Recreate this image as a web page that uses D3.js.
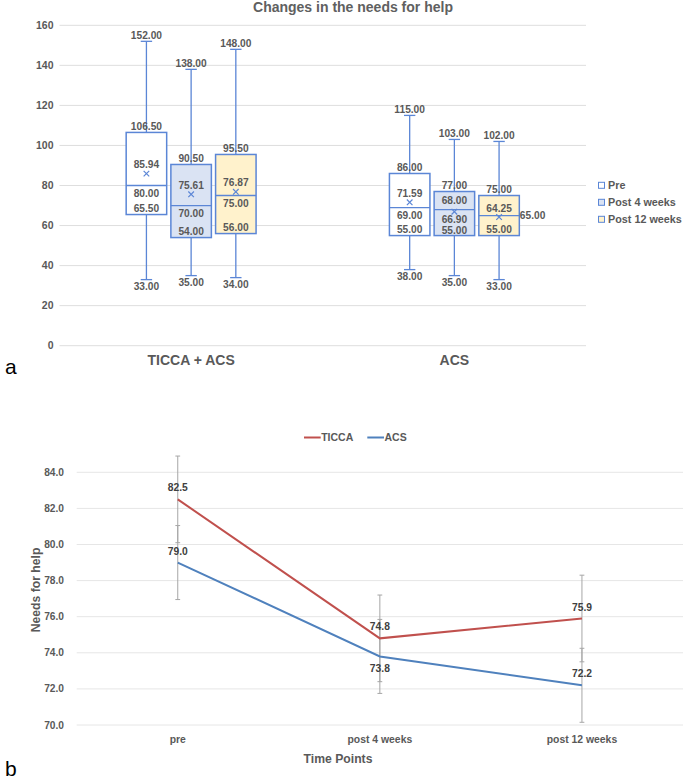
<!DOCTYPE html>
<html>
<head>
<meta charset="utf-8">
<script src="https://cdn.jsdelivr.net/npm/d3@7/dist/d3.min.js"></script>
<style>
  html, body { margin: 0; padding: 0; background: #fff; }
  svg { display: block; font-family: "Liberation Sans", Arial, sans-serif; }
</style>
</head>
<body>
<svg id="chart" width="685" height="781"></svg>
<script>
// ---- panel a: box plot data ----
const boxGroups = ['TICCA + ACS', 'ACS'];
const boxSeries = ['Pre', 'Post 4 weeks', 'Post 12 weeks'];
const boxMin    = [[33, 35, 34], [38, 35, 33]];
const boxQ1     = [[65.5, 54, 56], [55, 55, 55]];
const boxMedian = [[80, 70, 75], [69, 68, 65]];
const boxMean   = [[85.94, 75.61, 76.87], [71.59, 66.90, 64.25]];
const boxQ3     = [[106.5, 90.5, 95.5], [86, 77, 75]];
const boxMax    = [[152, 138, 148], [115, 103, 102]];
const boxTicks  = [0, 20, 40, 60, 80, 100, 120, 140, 160];

// ---- panel b: line chart data ----
const timePoints = ['pre', 'post 4 weeks', 'post 12 weeks'];
const lineNames  = ['TICCA', 'ACS'];
const ticcaMean  = [82.5, 74.8, 75.9];
const acsMean    = [79.0, 73.8, 72.2];
const ticcaErr   = [2.4, 2.4, 2.4];
const acsErr     = [2.05, 2.05, 2.05];
const lineTicks  = [70, 72, 74, 76, 78, 80, 82, 84];

const GRAY = '#595959';
const BOX_STROKE = '#5b86d6';
const BOX_FILLS = ['#ffffff', '#dae3f3', '#fff2cc'];

const svg = d3.select('#chart');

// ================= panel a =================
const ya = d3.scaleLinear().domain([0, 160]).range([345.7, 25.3]);
const xa = d3.scaleBand().domain(boxGroups).range([59.5, 586]);
const xs = d3.scalePoint().domain(boxSeries).range([-44.7, 44.7]);
const boxW = 40.5;

const ga = svg.append('g');

ga.selectAll('.grid-a')
    .data(boxTicks)
    .enter()
    .append('line')
    .attr('x1', 59.5)
    .attr('x2', 586)
    .attr('y1', d => ya(d))
    .attr('y2', d => ya(d))
    .attr('stroke', '#dedede')
    .attr('stroke-width', 1);

ga.selectAll('.ytick-a')
    .data(boxTicks)
    .enter()
    .append('text')
    .attr('x', 53.5)
    .attr('y', d => ya(d))
    .attr('dy', '0.35em')
    .attr('text-anchor', 'end')
    .style('font-size', '10.5px')
    .style('font-weight', '700')
    .style('fill', GRAY)
    .text(d => d);

ga.append('text')
    .attr('x', 353)
    .attr('y', 7)
    .attr('dy', '0.35em')
    .attr('text-anchor', 'middle')
    .style('font-size', '14px')
    .style('font-weight', '700')
    .style('fill', '#606060')
    .text('Changes in the needs for help');

ga.selectAll('.cat-a')
    .data(boxGroups)
    .enter()
    .append('text')
    .attr('x', d => xa(d) + xa.bandwidth() / 2)
    .attr('y', 360)
    .attr('dy', '0.35em')
    .attr('text-anchor', 'middle')
    .style('font-size', '14px')
    .style('font-weight', '700')
    .style('fill', GRAY)
    .text(d => d);

// flatten into box records
const boxes = [];
boxGroups.forEach((g, gi) => {
    boxSeries.forEach((s, si) => {
        boxes.push({
            gi, si,
            cx: xa(g) + xa.bandwidth() / 2 + xs(s),
            min: boxMin[gi][si], q1: boxQ1[gi][si], med: boxMedian[gi][si],
            mean: boxMean[gi][si], q3: boxQ3[gi][si], max: boxMax[gi][si]
        });
    });
});

boxes.forEach(b => {
    const g = ga.append('g');
    // whiskers
    [[b.min, b.q1], [b.q3, b.max]].forEach(([a, c]) => {
        g.append('line')
            .attr('x1', b.cx).attr('x2', b.cx)
            .attr('y1', ya(a)).attr('y2', ya(c))
            .attr('stroke', BOX_STROKE).attr('stroke-width', 1.3);
    });
    [b.min, b.max].forEach(v => {
        g.append('line')
            .attr('x1', b.cx - 5.7).attr('x2', b.cx + 5.7)
            .attr('y1', ya(v)).attr('y2', ya(v))
            .attr('stroke', BOX_STROKE).attr('stroke-width', 1.3);
    });
    // box
    g.append('rect')
        .attr('x', b.cx - boxW / 2)
        .attr('y', ya(b.q3))
        .attr('width', boxW)
        .attr('height', ya(b.q1) - ya(b.q3))
        .attr('fill', BOX_FILLS[b.si])
        .attr('stroke', BOX_STROKE)
        .attr('stroke-width', 1.5);
    g.append('line')
        .attr('x1', b.cx - boxW / 2).attr('x2', b.cx + boxW / 2)
        .attr('y1', ya(b.med)).attr('y2', ya(b.med))
        .attr('stroke', BOX_STROKE).attr('stroke-width', 1.3);
    // mean marker
    const my = ya(b.mean);
    g.append('path')
        .attr('d', `M${b.cx - 2.8},${my - 2.8}L${b.cx + 2.8},${my + 2.8}M${b.cx - 2.8},${my + 2.8}L${b.cx + 2.8},${my - 2.8}`)
        .attr('stroke', BOX_STROKE).attr('stroke-width', 1.2).attr('fill', 'none');

    // labels (Excel moves a few of them to avoid overlap)
    const labels = [
        { v: b.max, dy: -6 },
        { v: b.q3, dy: -6 },
        { v: b.mean, dy: -9 },
        { v: b.med, dy: 7.5 },
        { v: b.q1, dy: -6 },
        { v: b.min, dy: 7 }
    ];
    if (b.gi === 1 && b.si === 1) { labels[3].dy = -9; labels[2].dy = 8; labels[4].dy = -4.8; }
    const medRight = b.gi === 1 && b.si === 2;
    labels.forEach((l, i) => {
        const right = medRight && i === 3;
        g.append('text')
            .attr('x', right ? b.cx + boxW / 2 + 0.5 : b.cx)
            .attr('y', ya(l.v) + (right ? 0 : l.dy))
            .attr('dy', '0.35em')
            .attr('text-anchor', right ? 'start' : 'middle')
            .style('font-size', '10.2px')
            .style('font-weight', '700')
            .style('fill', GRAY)
            .text(l.v.toFixed(2));
    });
});

// legend a
const legA = ga.append('g');
boxSeries.forEach((s, i) => {
    const y = 185.3 + i * 17;
    legA.append('rect')
        .attr('x', 598.5).attr('y', y - 3)
        .attr('width', 6).attr('height', 6)
        .attr('fill', BOX_FILLS[i])
        .attr('stroke', BOX_STROKE).attr('stroke-width', 1);
    legA.append('text')
        .attr('x', 608)
        .attr('y', y)
        .attr('dy', '0.35em')
        .style('font-size', '10.8px')
        .style('font-weight', '700')
        .style('fill', GRAY)
        .text(s);
});

svg.append('text')
    .attr('x', 5)
    .attr('y', 373.5)
    .style('font-size', '21px')
    .style('fill', '#000')
    .text('a');

// ================= panel b =================
const yb = d3.scaleLinear().domain([70, 84]).range([725, 472.3]);
const xb = d3.scaleBand().domain(timePoints).range([76.7, 683]);
const cxb = d => xb(d) + xb.bandwidth() / 2;

const gb = svg.append('g');

gb.selectAll('.grid-b')
    .data(lineTicks)
    .enter()
    .append('line')
    .attr('x1', 76.7)
    .attr('x2', 683)
    .attr('y1', d => yb(d))
    .attr('y2', d => yb(d))
    .attr('stroke', '#e6e6e6')
    .attr('stroke-width', 1);

gb.selectAll('.ytick-b')
    .data(lineTicks)
    .enter()
    .append('text')
    .attr('x', 64)
    .attr('y', d => yb(d))
    .attr('dy', '0.35em')
    .attr('text-anchor', 'end')
    .style('font-size', '10.2px')
    .style('font-weight', '700')
    .style('fill', GRAY)
    .text(d => d.toFixed(1));

gb.selectAll('.cat-b')
    .data(timePoints)
    .enter()
    .append('text')
    .attr('x', d => cxb(d))
    .attr('y', 739)
    .attr('dy', '0.35em')
    .attr('text-anchor', 'middle')
    .style('font-size', '10.4px')
    .style('font-weight', '700')
    .style('fill', GRAY)
    .text(d => d);

gb.append('text')
    .attr('x', 338)
    .attr('y', 759)
    .attr('dy', '0.35em')
    .attr('text-anchor', 'middle')
    .style('font-size', '12.2px')
    .style('font-weight', '700')
    .style('fill', GRAY)
    .text('Time Points');

gb.append('text')
    .attr('transform', 'translate(36,590) rotate(-90)')
    .attr('dy', '0.35em')
    .attr('text-anchor', 'middle')
    .style('font-size', '12.2px')
    .style('font-weight', '700')
    .style('fill', GRAY)
    .text('Needs for help');

const lineData = [
    { name: 'TICCA', values: ticcaMean, err: ticcaErr, color: '#c0504d', labelDy: [-11.5, -11.5, -11] },
    { name: 'ACS', values: acsMean, err: acsErr, color: '#4f81bd', labelDy: [-11.5, 12, -12] }
];

// error bars
lineData.forEach(s => {
    s.values.forEach((v, i) => {
        const x = cxb(timePoints[i]);
        const lo = yb(v - s.err[i]);
        const hi = yb(v + s.err[i]);
        gb.append('line')
            .attr('x1', x).attr('x2', x).attr('y1', lo).attr('y2', hi)
            .attr('stroke', '#a6a6a6').attr('stroke-width', 1);
        [lo, hi].forEach(y => {
            gb.append('line')
                .attr('x1', x - 2.4).attr('x2', x + 2.4).attr('y1', y).attr('y2', y)
                .attr('stroke', '#a6a6a6').attr('stroke-width', 1);
        });
    });
});

const line = d3.line()
    .x((d, i) => cxb(timePoints[i]))
    .y(d => yb(d));

lineData.forEach(s => {
    gb.append('path')
        .datum(s.values)
        .attr('d', line)
        .attr('fill', 'none')
        .attr('stroke', s.color)
        .attr('stroke-width', 2);
});

lineData.forEach(s => {
    s.values.forEach((v, i) => {
        gb.append('text')
            .attr('x', cxb(timePoints[i]))
            .attr('y', yb(v) + s.labelDy[i])
            .attr('dy', '0.35em')
            .attr('text-anchor', 'middle')
            .style('font-size', '10.3px')
            .style('font-weight', '700')
            .style('fill', '#404040')
            .text(v.toFixed(1));
    });
});

// legend b
const legB = [{ x: 304 }, { x: 367.3 }];
lineData.forEach((s, i) => {
    const x0 = legB[i].x;
    gb.append('line')
        .attr('x1', x0).attr('x2', x0 + 16.7)
        .attr('y1', 437.5).attr('y2', 437.5)
        .attr('stroke', s.color).attr('stroke-width', 2);
    gb.append('text')
        .attr('x', x0 + 17.2)
        .attr('y', 437.5)
        .attr('dy', '0.35em')
        .style('font-size', '10.5px')
        .style('font-weight', '700')
        .style('fill', GRAY)
        .text(lineNames[i]);
});

svg.append('text')
    .attr('x', 5)
    .attr('y', 776)
    .style('font-size', '21px')
    .style('fill', '#000')
    .text('b');
</script>
</body>
</html>
